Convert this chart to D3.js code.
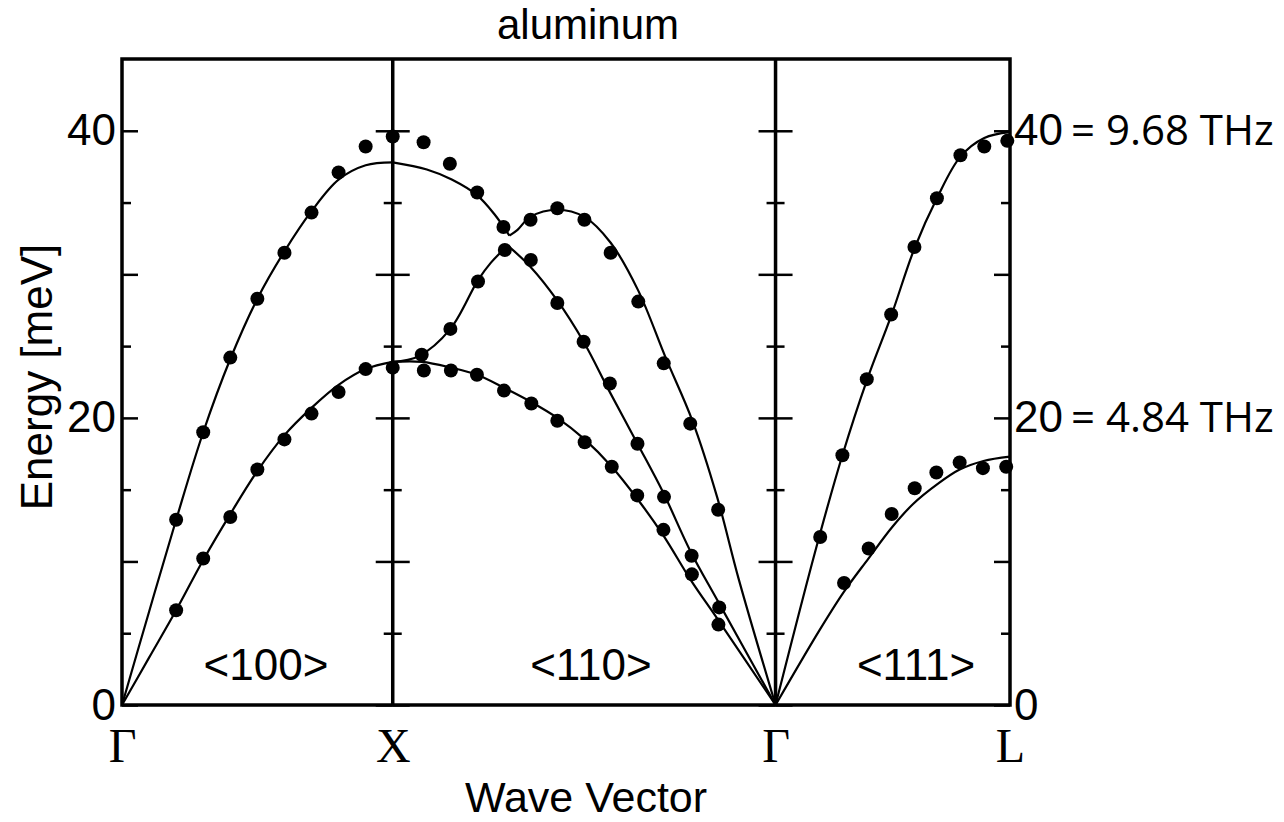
<!DOCTYPE html>
<html>
<head>
<meta charset="utf-8">
<script src="https://cdn.jsdelivr.net/npm/d3@7"></script>
<style>
  body { margin: 0; background: #fff; }
  svg { display: block; }
  text { font-family: "Liberation Sans", Arial, Helvetica, sans-serif; fill: #000; }
</style>
</head>
<body>
<svg id="chart" width="1284" height="822"></svg>
<script>
// ---- data (wave vector q in units of 2pi/a along the path, energy in meV) ----
const pointLabels = ["Γ", "X", "Γ", "L"];
const pointQ = [0, 1, 2.414, 3.28];
const dirLabels = ["<100>", "<110>", "<111>"];
const energyTicks = [0, 10, 20, 30, 40];
const energyMinorTicks = [5, 15, 25, 35];
const thzLabels = { 40: "= 9.68 THz", 20: "= 4.84 THz" };

// calculated curves (solid lines), split at the sharp corners near K
const lineL100 = [[0,0],[0.1,6.5],[0.2,12.9],[0.3,19.0],[0.4,24.1],[0.5,28.3],[0.6,31.6],[0.7,34.4],[0.8,36.6],[0.9,37.6],[1.0,37.8]];
const lineT100 = [[0,0],[0.1,3.3],[0.2,6.6],[0.3,10.1],[0.4,13.3],[0.5,16.3],[0.6,18.8],[0.7,20.7],[0.8,22.3],[0.9,23.4],[1.0,23.9]];
const lineUpper110a = [[1.0,37.8],[1.126,37.3],[1.218,36.6],[1.312,35.5],[1.375,34.2],[1.431,32.7]];
const lineUpper110b = [[1.431,32.7],[1.461,33.1],[1.508,34.0],[1.608,34.5],[1.708,34.0],[1.805,32.2],[1.906,28.9],[2.008,24.2],[2.107,19.8],[2.198,14.5],[2.279,8.7],[2.414,0]];
const lineMiddle110a = [[1.0,23.9],[1.096,24.3],[1.213,26.2],[1.315,29.6],[1.362,30.8],[1.425,32.0]];
const lineMiddle110b = [[1.425,32.0],[1.510,30.5],[1.607,28.2],[1.705,25.3],[1.799,21.9],[1.904,18.2],[1.999,14.8],[2.100,10.7],[2.202,7.2],[2.414,0]];
const lineLower110 = [[1.0,23.9],[1.108,23.9],[1.215,23.5],[1.311,23.0],[1.411,22.1],[1.512,21.1],[1.608,20.0],[1.709,18.5],[1.809,16.6],[1.906,14.3],[2.0,11.8],[2.101,8.7],[2.203,5.9],[2.414,0]];
const lineUpper111 = [[2.414,0],[2.562,10.8],[2.661,17.4],[2.751,22.6],[2.841,27.1],[2.927,31.8],[3.010,35.3],[3.097,38.2],[3.185,39.5],[3.28,39.9]];
const lineLower111 = [[2.414,0],[2.576,5.2],[2.667,7.9],[2.757,10.2],[2.845,12.4],[2.922,14.0],[3.013,15.4],[3.094,16.4],[3.182,17.0],[3.28,17.3]];

// measured points (dots)
const dotsL100 = [[0.2,12.9],[0.3,19.0],[0.4,24.2],[0.5,28.3],[0.6,31.5],[0.7,34.3],[0.8,37.1],[0.9,38.9],[1.0,39.6]];
const dotsT100 = [[0.2,6.6],[0.3,10.2],[0.4,13.1],[0.5,16.4],[0.6,18.5],[0.7,20.3],[0.8,21.8],[0.9,23.4],[1.0,23.5]];
const dotsUpper110 = [[1.114,39.2],[1.211,37.7],[1.312,35.7],[1.409,33.3],[1.509,33.8],[1.608,34.6],[1.708,33.8],[1.805,31.5],[1.907,28.1],[2.001,23.8],[2.099,19.6],[2.202,13.6]];
const dotsMiddle110 = [[1.107,24.4],[1.213,26.2],[1.315,29.5],[1.414,31.7],[1.510,31.0],[1.608,28.0],[1.705,25.3],[1.802,22.4],[1.904,18.2],[2.002,14.5],[2.104,10.4],[2.206,6.8]];
const dotsLower110 = [[1.115,23.3],[1.215,23.3],[1.311,23.0],[1.411,21.9],[1.512,21.0],[1.608,19.8],[1.709,18.3],[1.809,16.6],[1.903,14.6],[2.0,12.2],[2.105,9.1],[2.203,5.6]];
const dotsUpper111 = [[2.579,11.7],[2.661,17.4],[2.751,22.7],[2.841,27.2],[2.927,31.9],[3.010,35.3],[3.097,38.3],[3.185,38.9],[3.270,39.3]];
const dotsLower111 = [[2.667,8.5],[2.758,10.9],[2.843,13.3],[2.928,15.1],[3.008,16.2],[3.094,16.9],[3.180,16.5],[3.266,16.6]];

const svg = d3.select('#chart');

// scales: plot box runs from Γ to L and 0 to 45 meV
const x = d3.scaleLinear().domain([0, 3.28]).range([122, 1010]);
const y = d3.scaleLinear().domain([0, 45]).range([705, 59]);

// label positions inside each section (in q units) - layout only
const dirLabelQ = [0.532, 1.732, 2.933];

// ---- ticks ----
function styleTicks(g) {
  g.select('.domain').remove();
  g.selectAll('.tick line').attr('stroke', '#000').attr('stroke-width', 2.5);
}

// left frame: ticks point inward, labels 0/20/40 outside
svg.append('g')
  .attr('transform', `translate(${x(0)},0)`)
  .call(d3.axisLeft(y).tickValues(energyTicks).tickSize(-16).tickPadding(6)
    .tickFormat(d => d % 20 === 0 ? d : ''))
  .call(styleTicks)
  .call(g => g.selectAll('text').attr('font-size', 44));
svg.append('g')
  .attr('transform', `translate(${x(0)},0)`)
  .call(d3.axisRight(y).tickValues(energyMinorTicks).tickSize(9).tickFormat(''))
  .call(styleTicks);

// right frame: ticks inward, labels with THz conversion
const rightAxis = svg.append('g')
  .attr('transform', `translate(${x(3.28)},0)`)
  .call(d3.axisRight(y).tickValues(energyTicks).tickSize(-16).tickPadding(4)
    .tickFormat(d => d % 20 === 0 ? d : ''))
  .call(styleTicks);
rightAxis.selectAll('text').attr('font-size', 44);
rightAxis.selectAll('.tick')
  .filter(d => thzLabels[d])
  .select('text')
  .append('tspan')
  .style('font-family', '"Open Sans", sans-serif')
  .attr('font-size', 42)
  .attr('dx', 8)
  .text(d => thzLabels[d]);
svg.append('g')
  .attr('transform', `translate(${x(3.28)},0)`)
  .call(d3.axisLeft(y).tickValues(energyMinorTicks).tickSize(9).tickFormat(''))
  .call(styleTicks);

// inner symmetry-point lines (X, Γ): ticks on both sides
[pointQ[1], pointQ[2]].forEach(q => {
  [[energyTicks, 17], [energyMinorTicks, 9]].forEach(([vals, len]) => {
    svg.append('g').attr('transform', `translate(${x(q)},0)`)
      .call(d3.axisLeft(y).tickValues(vals).tickSize(len).tickFormat('')).call(styleTicks);
    svg.append('g').attr('transform', `translate(${x(q)},0)`)
      .call(d3.axisRight(y).tickValues(vals).tickSize(len).tickFormat('')).call(styleTicks);
  });
  svg.append('line')
    .attr('x1', x(q)).attr('x2', x(q))
    .attr('y1', y(0)).attr('y2', y(45))
    .attr('stroke', '#000').attr('stroke-width', 3.5);
});

// frame
svg.append('rect')
  .attr('x', x(0)).attr('y', y(45))
  .attr('width', x(3.28) - x(0)).attr('height', y(0) - y(45))
  .attr('fill', 'none').attr('stroke', '#000').attr('stroke-width', 3.5);

// bottom symmetry point labels (serif, like the original figure)
svg.append('g')
  .attr('transform', `translate(0,${y(0)})`)
  .call(d3.axisBottom(x).tickValues(pointQ).tickSize(0).tickPadding(23)
    .tickFormat((d, i) => pointLabels[i]))
  .call(g => g.select('.domain').remove())
  .call(g => g.selectAll('text')
    .style('font-family', '"Liberation Serif", "Times New Roman", serif')
    .attr('font-size', 48));

// ---- curves ----
const line = d3.line()
  .x(d => x(d[0]))
  .y(d => y(d[1]))
  .curve(d3.curveCatmullRom.alpha(0.5));

const lineSegments = [lineL100, lineT100, lineUpper110a, lineUpper110b, lineMiddle110a,
  lineMiddle110b, lineLower110, lineUpper111, lineLower111];

svg.append('g')
  .selectAll('path')
  .data(lineSegments)
  .join('path')
  .attr('d', line)
  .attr('fill', 'none')
  .attr('stroke', '#000')
  .attr('stroke-width', 2.2);

// ---- measured points ----
const allDots = [].concat(dotsL100, dotsT100, dotsUpper110, dotsMiddle110, dotsLower110,
  dotsUpper111, dotsLower111);

svg.append('g')
  .selectAll('circle')
  .data(allDots)
  .join('circle')
  .attr('cx', d => x(d[0]))
  .attr('cy', d => y(d[1]))
  .attr('r', 7)
  .attr('fill', '#000');

// direction labels
svg.append('g')
  .selectAll('text')
  .data(dirLabels)
  .join('text')
  .attr('x', (d, i) => x(dirLabelQ[i]))
  .attr('y', 680)
  .attr('text-anchor', 'middle')
  .attr('font-size', 44)
  .text(d => d);

// titles
svg.append('text')
  .attr('x', 588).attr('y', 39)
  .attr('text-anchor', 'middle')
  .attr('font-size', 42)
  .text('aluminum');

svg.append('text')
  .attr('transform', 'translate(52,377) rotate(-90)')
  .attr('text-anchor', 'middle')
  .attr('font-size', 44)
  .text('Energy [meV]');

svg.append('text')
  .attr('x', 586).attr('y', 812)
  .attr('text-anchor', 'middle')
  .attr('font-size', 43)
  .text('Wave Vector');
</script>
</body>
</html>
